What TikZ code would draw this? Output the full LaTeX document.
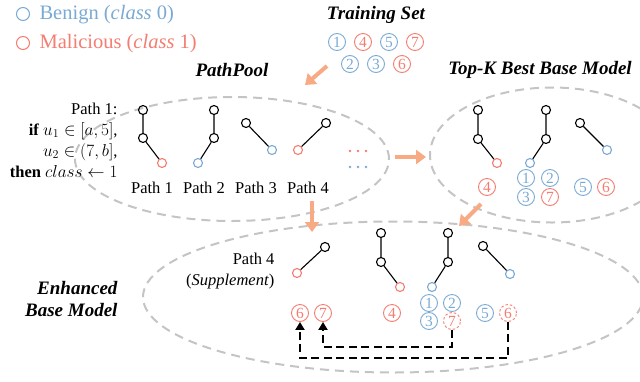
\documentclass[tikz,border=0pt]{standalone}
\usepackage{fontspec}
\setmainfont{Liberation Serif}
\usetikzlibrary{arrows.meta,shapes.geometric}

\definecolor{benign}{RGB}{122,170,212}
\definecolor{malic}{RGB}{244,124,112}
\definecolor{flowor}{RGB}{247,170,132}
\definecolor{poolgray}{RGB}{196,196,196}

\tikzset{
    vert/.style={circle, draw, line width=1.1pt, inner sep=0pt, minimum size=9pt},
    leafb/.style={vert, draw=benign},
    leafr/.style={vert, draw=malic},
    edge/.style={line width=1.1pt},
    numb/.style={circle, draw=benign, text=benign, line width=0.9pt, inner sep=0pt,
        minimum size=17pt, font=\fontsize{15.5}{15.5}\selectfont},
    numr/.style={numb, draw=malic, text=malic},
    numx/.style={numr, dash pattern=on 2.5pt off 2pt},
    pool/.style={ellipse, draw=poolgray, line width=2pt, dash pattern=on 9pt off 6pt, inner sep=0pt},
    flow/.style={draw=flowor, line width=4pt, -{Triangle[length=10pt,width=14pt]}},
    back/.style={line width=2.6pt, dash pattern=on 8pt off 4.5pt, -{Triangle[length=8pt,width=9pt]}},
    title/.style={font=\fontsize{19}{22}\selectfont\bfseries\itshape},
    lab/.style={font=\fontsize{16.5}{21}\selectfont}
}

\begin{document}
\begin{tikzpicture}[x=1pt, y=-1pt]
        \useasboundingbox (0,0) rectangle (640,381);

        % the three pools
        \node[pool, minimum width=314pt, minimum height=124pt] (pathpool) at (232,159) {};
        \node[pool, minimum width=244pt, minimum height=135pt] (topk) at (552,155) {};
        \node[pool, minimum width=500pt, minimum height=151pt] (enh) at (393,297) {};

        % legend
        \node[circle, draw=benign, line width=1pt, inner sep=0pt, minimum size=13pt] (lb) at (23,14) {};
        \node[anchor=west, text=benign, font=\fontsize{20.5}{23}\selectfont] (lbt) at (36,15) {Benign (\textit{class} 0)};
        \node[circle, draw=malic, line width=1pt, inner sep=0pt, minimum size=13pt] (lm) at (23,43) {};
        \node[anchor=west, text=malic, font=\fontsize{20.5}{23}\selectfont] (lmt) at (36,44) {Malicious (\textit{class} 1)};

        % titles
        \node[title] (tstitle) at (376,15) {Training Set};
        \node[title] (pptitle) at (232,70) {PathPool};
        \node[title] (tktitle) at (540,70) {Top-K Best Base Model};
        \node[title, align=right, anchor=east] (enhtitle) at (121,299) {Enhanced\\Base Model};

        % training set
        \foreach \n/\x/\y/\s in {1/337/42/numb, 4/363/42/numr, 5/389/42/numb, 7/415/42/numr,
                                 2/350/64/numb, 3/376/64/numb, 6/402/64/numr} {
            \node[\s] (ts\n) at (\x,\y) {\n};
        }

        % flow arrows
        \coordinate (f1s) at (327,66);  \coordinate (f1e) at (305,85);
        \coordinate (f2s) at (395,157); \coordinate (f2e) at (426,157);
        \coordinate (f3s) at (312,201); \coordinate (f3e) at (312,232);
        \coordinate (f4s) at (481,204); \coordinate (f4e) at (459,226);
        \draw[flow] (f1s) -- (f1e);
        \draw[flow] (f2s) -- (f2e);
        \draw[flow] (f3s) -- (f3e);
        \draw[flow] (f4s) -- (f4e);

        % PathPool
        \node[lab, align=right, anchor=east] (rule) at (121,140)
            {Path 1:\\\textbf{if} $u_1\in[a,5]$,\\$u_2\in(7,b]$,\\\textbf{then} $class\leftarrow 1$};

        \node[vert]  (p1a) at (143,110) {};
        \node[vert]  (p1b) at (143,138) {};
        \node[leafr] (p1c) at (162,163) {};
        \node[vert]  (p2a) at (214,110) {};
        \node[vert]  (p2b) at (214,138) {};
        \node[leafb] (p2c) at (198,163) {};
        \node[vert]  (p3a) at (246,123) {};
        \node[leafb] (p3b) at (272,150) {};
        \node[vert]  (p4a) at (326,123) {};
        \node[leafr] (p4b) at (298,150) {};
        \draw[edge] (p1a) -- (p1b) -- (p1c);
        \draw[edge] (p2a) -- (p2b) -- (p2c);
        \draw[edge] (p3a) -- (p3b);
        \draw[edge] (p4a) -- (p4b);

        \foreach \i in {1,...,4} {
            \node[lab] (pl\i) at ({100+52*\i},188) {Path \i};
        }
        \foreach \i in {0,1,2} {
            \fill[malic]  (350+8*\i,151) circle (1.4);
            \fill[benign] (350+8*\i,167) circle (1.4);
        }

        % Top-K best base model
        \node[vert]  (k1a) at (478,110) {};
        \node[vert]  (k1b) at (478,139) {};
        \node[leafr] (k1c) at (497,163) {};
        \node[vert]  (k2a) at (546,110) {};
        \node[vert]  (k2b) at (546,139) {};
        \node[leafb] (k2c) at (530,163) {};
        \node[vert]  (k3a) at (580,123) {};
        \node[leafb] (k3b) at (607,150) {};
        \draw[edge] (k1a) -- (k1b) -- (k1c);
        \draw[edge] (k2a) -- (k2b) -- (k2c);
        \draw[edge] (k3a) -- (k3b);

        \foreach \n/\x/\y/\s in {4/487/187/numr, 1/526/178/numb, 2/550/178/numb, 3/526/197/numb,
                                 7/550/197/numr, 5/583/187/numb, 6/606/187/numr} {
            \node[\s] (tk\n) at (\x,\y) {\n};
        }

        % Enhanced base model
        \node[lab, align=right, anchor=east] (supp) at (278,271) {Path 4\\(\textit{Supplement})};

        \node[vert]  (s4a) at (325,247) {};
        \node[leafr] (s4b) at (297,273) {};
        \node[vert]  (e1a) at (381,233) {};
        \node[vert]  (e1b) at (381,262) {};
        \node[leafr] (e1c) at (400,287) {};
        \node[vert]  (e2a) at (448,233) {};
        \node[vert]  (e2b) at (448,262) {};
        \node[leafb] (e2c) at (432,287) {};
        \node[vert]  (e3a) at (483,246) {};
        \node[leafb] (e3b) at (510,274) {};
        \draw[edge] (s4a) -- (s4b);
        \draw[edge] (e1a) -- (e1b) -- (e1c);
        \draw[edge] (e2a) -- (e2b) -- (e2c);
        \draw[edge] (e3a) -- (e3b);

        \foreach \n/\x/\y/\s in {6/300/313/numr, 7/323/313/numr, 4/392/313/numr,
                                 1/429/303/numb, 2/452/303/numb, 3/429/321/numb,
                                 5/485/313/numb} {
            \node[\s] (en\n) at (\x,\y) {\n};
        }
        \node[numx] (ex7) at (452,321) {7};
        \node[numx] (ex6) at (508,313) {6};

        % moved samples
        \draw[back] (ex7.south) -- (ex7.south |- 0,347) -| (en7.south);
        \draw[back] (ex6.south) -- (ex6.south |- 0,358) -| (en6.south);
    \end{tikzpicture}
\end{document}
